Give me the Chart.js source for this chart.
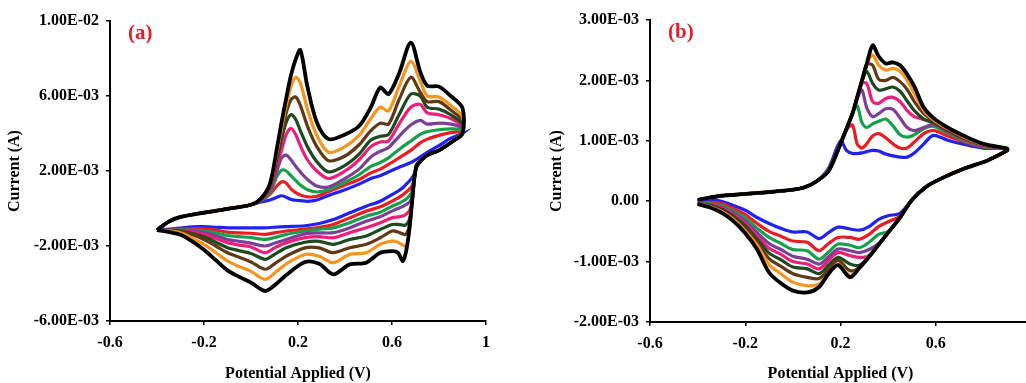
<!DOCTYPE html>
<html>
<head>
<meta charset="utf-8">
<script src="https://cdn.jsdelivr.net/npm/chart.js@4.4.0/dist/chart.umd.min.js"></script>
<style>
  html, body { margin: 0; padding: 0; background: #fff; }
  #wrap { position: relative; width: 1026px; height: 383px; overflow: hidden; }
  #chartA { position: absolute; left: 0; top: 0; }
  #chartB { position: absolute; left: 513px; top: 0; }
</style>
</head>
<body>
<div id="wrap">
  <canvas id="chartA" width="513" height="383"></canvas>
  <canvas id="chartB" width="540" height="383"></canvas>
</div>
<script>
// Currents are in mA, axis labels show them in A.
// Each series = forward scan then reverse scan (same order as the potential array).

// ---------- panel (a) ----------
const A_POT = [
  -0.4, -0.35, -0.3, -0.2, -0.1, 0, 0.04, 0.08, 0.11, 0.13, 0.15, 0.17, 0.19, 0.21, 0.24, 0.28, 0.33, 0.4, 0.46, 0.51, 0.55, 0.585, 0.63, 0.68, 0.72, 0.75, 0.8, 0.85, 0.9,
  0.9, 0.86, 0.8, 0.75, 0.72, 0.705, 0.695, 0.685, 0.675, 0.665, 0.655, 0.645, 0.625, 0.6, 0.55, 0.49, 0.42, 0.35, 0.29, 0.23, 0.15, 0.1, 0.06, 0, -0.05, -0.1, -0.15, -0.2, -0.25, -0.3, -0.35, -0.4
];
const A_BLACK = [
  -1.15, -0.7, -0.45, -0.22, -0.02, 0.2, 0.5, 1.3, 3.2, 4.6, 5.9, 7.1, 7.95, 8.45, 6.5, 4.6, 3.7, 3.95, 4.4, 5.4, 6.45, 6.1, 7.2, 8.85, 7.3, 6.55, 6.5, 6.0, 5.36,
  4.0, 3.6, 3.1, 2.85, 2.5, 2.3, 1.6, 0.3, -1.0, -1.95, -2.55, -2.8, -2.35, -2.27, -2.36, -2.89, -2.98, -3.51, -2.95, -2.85, -3.55, -4.1, -4.4, -3.95, -3.65, -3.3, -2.75, -2.2, -1.75, -1.4, -1.25, -1.15
];
const A_ORANGE = [
  -1.15, -0.7, -0.45, -0.22, -0.02, 0.2, 0.48, 1.25, 3.0, 4.3, 5.5, 6.5, 7.0, 6.7, 5.3, 3.9, 3.0, 3.3, 3.9, 4.8, 5.4, 5.2, 6.5, 7.85, 6.8, 6.0, 5.95, 5.5, 4.9,
  4.0, 3.6, 3.1, 2.85, 2.5, 2.3, 1.6, 0.3, -1.0, -1.85, -2.0, -1.95, -1.8, -1.74, -1.91, -2.36, -2.45, -2.89, -2.55, -2.45, -2.95, -3.45, -3.78, -3.35, -3.1, -2.8, -2.35, -1.91, -1.58, -1.3, -1.2, -1.15
];
const A_BROWN = [
  -1.15, -0.7, -0.45, -0.22, -0.02, 0.2, 0.47, 1.2, 2.8, 4.0, 5.1, 5.8, 5.95, 5.5, 4.4, 3.3, 2.55, 2.8, 3.4, 4.15, 4.55, 4.5, 5.8, 7.0, 6.2, 5.7, 5.7, 5.25, 4.7,
  4.0, 3.6, 3.1, 2.85, 2.5, 2.3, 1.6, 0.3, -0.9, -1.25, -1.4, -1.35, -1.25, -1.2, -1.56, -1.91, -2.09, -2.36, -2.1, -2.1, -2.54, -2.95, -3.24, -2.85, -2.6, -2.36, -2.0, -1.65, -1.4, -1.25, -1.18, -1.15
];
const A_DKGREEN = [
  -1.15, -0.7, -0.45, -0.22, -0.02, 0.2, 0.46, 1.15, 2.6, 3.7, 4.6, 5.0, 4.75, 4.15, 3.3, 2.5, 1.95, 2.3, 2.9, 3.65, 3.85, 3.95, 5.0, 6.1, 6.0, 5.4, 5.3, 5.0, 4.5,
  4.0, 3.6, 3.1, 2.85, 2.5, 2.3, 1.6, 0.3, -0.55, -0.8, -0.9, -0.88, -0.85, -0.85, -1.12, -1.47, -1.65, -1.91, -1.75, -1.8, -2.09, -2.45, -2.71, -2.4, -2.25, -2.09, -1.8, -1.51, -1.33, -1.2, -1.16, -1.15
];
const A_PINK = [
  -1.15, -0.7, -0.45, -0.22, -0.02, 0.2, 0.45, 1.05, 2.3, 3.1, 3.95, 4.28, 3.95, 3.35, 2.6, 2.0, 1.6, 2.0, 2.6, 3.3, 3.55, 3.6, 4.5, 5.4, 5.55, 5.1, 5.0, 4.8, 4.4,
  4.0, 3.6, 3.1, 2.85, 2.5, 2.3, 1.6, 0.3, -0.1, -0.25, -0.35, -0.4, -0.45, -0.5, -0.76, -1.03, -1.29, -1.56, -1.5, -1.55, -1.82, -2.1, -2.36, -2.05, -1.95, -1.82, -1.6, -1.38, -1.25, -1.18, -1.15, -1.15
];
const A_PURPLE = [
  -1.15, -0.7, -0.45, -0.22, -0.02, 0.2, 0.44, 0.95, 2.0, 2.7, 2.85, 2.6, 2.25, 1.95, 1.55, 1.2, 1.15, 1.6, 2.1, 2.75, 3.05, 3.25, 3.85, 4.45, 4.7, 4.5, 4.55, 4.5, 4.3,
  4.0, 3.6, 3.1, 2.85, 2.5, 2.3, 1.6, 0.55, 0.35, 0.25, 0.18, 0.1, 0.0, -0.14, -0.44, -0.68, -1.03, -1.29, -1.3, -1.35, -1.65, -1.85, -2.0, -1.85, -1.75, -1.65, -1.45, -1.29, -1.2, -1.15, -1.15, -1.15
];
const A_GREEN = [
  -1.15, -0.7, -0.45, -0.22, -0.02, 0.2, 0.42, 0.85, 1.7, 2.05, 2.0, 1.75, 1.5, 1.25, 1.0, 0.88, 1.0, 1.4, 1.8, 2.25, 2.45, 2.7, 3.15, 3.6, 3.95, 4.1, 4.2, 4.25, 4.2,
  4.0, 3.6, 3.1, 2.85, 2.5, 2.3, 1.6, 0.9, 0.7, 0.55, 0.45, 0.38, 0.25, 0.12, -0.2, -0.41, -0.76, -1.03, -1.1, -1.2, -1.38, -1.55, -1.65, -1.55, -1.5, -1.44, -1.3, -1.2, -1.15, -1.12, -1.13, -1.15
];
const A_RED = [
  -1.15, -0.7, -0.45, -0.22, -0.02, 0.2, 0.4, 0.75, 1.2, 1.42, 1.35, 1.05, 0.85, 0.72, 0.62, 0.65, 0.9, 1.25, 1.55, 1.9, 2.1, 2.35, 2.7, 3.1, 3.5, 3.7, 3.9, 4.05, 4.1,
  4.0, 3.6, 3.1, 2.85, 2.5, 2.3, 1.6, 1.2, 1.05, 0.92, 0.82, 0.72, 0.55, 0.39, 0.09, -0.14, -0.5, -0.85, -1.0, -1.1, -1.2, -1.3, -1.38, -1.32, -1.3, -1.26, -1.15, -1.08, -1.08, -1.1, -1.12, -1.15
];
const A_BLUE = [
  -1.15, -0.7, -0.45, -0.22, -0.02, 0.2, 0.33, 0.45, 0.6, 0.68, 0.6, 0.48, 0.44, 0.42, 0.38, 0.45, 0.7, 1.0, 1.3, 1.6, 1.75, 1.95, 2.2, 2.45, 2.75, 3.0, 3.35, 3.75, 4.0,
  4.0, 3.6, 3.1, 2.85, 2.5, 2.2, 1.85, 1.63, 1.48, 1.35, 1.22, 1.1, 0.92, 0.74, 0.39, 0.12, -0.23, -0.59, -0.8, -0.92, -0.97, -1.0, -1.03, -1.03, -1.03, -1.03, -1.0, -0.97, -0.98, -1.05, -1.1, -1.15
];
const A_Y_TICKS = [-6, -2, 2, 6, 10];
const A_Y_LABELS = ['-6.00E-03', '-2.00E-03', '2.00E-03', '6.00E-03', '1.00E-02'];

// ---------- panel (b) ----------
const B_POT = [
  -0.4, -0.35, -0.3, -0.2, -0.1, 0, 0.05, 0.1, 0.15, 0.2, 0.225, 0.25, 0.27, 0.29, 0.31, 0.335, 0.36, 0.39, 0.42, 0.45, 0.48, 0.51, 0.55, 0.59, 0.65, 0.72, 0.8, 0.9,
  0.9, 0.82, 0.72, 0.62, 0.56, 0.5, 0.45, 0.4, 0.36, 0.32, 0.28, 0.24, 0.19, 0.15, 0.11, 0.06, 0, -0.05, -0.1, -0.15, -0.2, -0.25, -0.3, -0.35, -0.4
];
const B_BLACK = [
  0.02, 0.06, 0.09, 0.12, 0.15, 0.19, 0.23, 0.33, 0.5, 0.95, 1.2, 1.45, 1.72, 2.0, 2.27, 2.58, 2.4, 2.28, 2.3, 2.25, 2.1, 1.9, 1.55, 1.38, 1.22, 1.08, 0.95, 0.87,
  0.84, 0.68, 0.54, 0.37, 0.24, 0.02, -0.27, -0.52, -0.72, -0.92, -1.1, -1.26, -1.06, -1.2, -1.42, -1.51, -1.48, -1.36, -1.18, -0.8, -0.53, -0.33, -0.19, -0.1, -0.05
];
const B_ORANGE = [
  0.02, 0.06, 0.09, 0.12, 0.15, 0.19, 0.23, 0.33, 0.5, 0.95, 1.2, 1.45, 1.72, 1.98, 2.25, 2.42, 2.25, 2.17, 2.2, 2.15, 2.0, 1.78, 1.5, 1.35, 1.2, 1.06, 0.94, 0.87,
  0.84, 0.68, 0.54, 0.37, 0.24, 0.02, -0.27, -0.52, -0.72, -0.92, -1.1, -1.23, -1.04, -1.2, -1.37, -1.4, -1.34, -1.2, -1.05, -0.73, -0.49, -0.3, -0.17, -0.09, -0.05
];
const B_BROWN = [
  0.02, 0.06, 0.09, 0.12, 0.15, 0.19, 0.23, 0.33, 0.5, 0.95, 1.2, 1.45, 1.72, 1.98, 2.27, 2.25, 2.02, 2.0, 2.05, 1.98, 1.85, 1.65, 1.45, 1.33, 1.18, 1.05, 0.93, 0.87,
  0.84, 0.68, 0.54, 0.37, 0.24, 0.02, -0.27, -0.52, -0.72, -0.92, -1.1, -1.15, -0.98, -1.13, -1.28, -1.26, -1.2, -1.08, -0.95, -0.68, -0.45, -0.28, -0.15, -0.08, -0.05
];
const B_DKGREEN = [
  0.02, 0.06, 0.09, 0.12, 0.15, 0.19, 0.23, 0.33, 0.5, 0.95, 1.2, 1.45, 1.72, 1.97, 2.15, 1.95, 1.84, 1.86, 1.89, 1.82, 1.66, 1.5, 1.36, 1.3, 1.17, 1.04, 0.93, 0.87,
  0.84, 0.68, 0.54, 0.37, 0.24, 0.02, -0.27, -0.52, -0.72, -0.92, -1.06, -1.04, -0.93, -1.06, -1.2, -1.12, -1.09, -0.97, -0.86, -0.63, -0.41, -0.25, -0.13, -0.07, -0.05
];
const B_PINK = [
  0.02, 0.06, 0.09, 0.12, 0.15, 0.19, 0.23, 0.33, 0.5, 0.95, 1.2, 1.45, 1.7, 1.95, 1.95, 1.65, 1.62, 1.7, 1.72, 1.65, 1.5, 1.4, 1.35, 1.3, 1.16, 1.03, 0.92, 0.87,
  0.84, 0.68, 0.54, 0.37, 0.24, 0.02, -0.27, -0.52, -0.72, -0.9, -0.93, -0.9, -0.85, -0.98, -1.12, -1.04, -1.0, -0.88, -0.78, -0.58, -0.37, -0.22, -0.11, -0.06, -0.05
];
const B_PURPLE = [
  0.02, 0.06, 0.09, 0.12, 0.15, 0.19, 0.23, 0.33, 0.5, 0.95, 1.2, 1.45, 1.7, 1.84, 1.55, 1.4, 1.45, 1.53, 1.52, 1.38, 1.22, 1.17, 1.22, 1.27, 1.15, 1.02, 0.91, 0.87,
  0.84, 0.68, 0.54, 0.37, 0.24, 0.02, -0.27, -0.52, -0.7, -0.8, -0.85, -0.82, -0.79, -0.92, -1.04, -0.96, -0.91, -0.8, -0.7, -0.52, -0.33, -0.19, -0.09, -0.05, -0.05
];
const B_GREEN = [
  0.02, 0.06, 0.09, 0.12, 0.15, 0.19, 0.23, 0.33, 0.52, 0.96, 1.2, 1.45, 1.58, 1.3, 1.22, 1.28, 1.32, 1.36, 1.25, 1.1, 1.06, 1.1, 1.2, 1.24, 1.13, 1.0, 0.9, 0.87,
  0.84, 0.68, 0.54, 0.37, 0.24, 0.02, -0.27, -0.5, -0.55, -0.68, -0.77, -0.73, -0.71, -0.84, -0.96, -0.82, -0.8, -0.7, -0.6, -0.45, -0.28, -0.16, -0.07, -0.04, -0.05
];
const B_RED = [
  0.02, 0.06, 0.09, 0.12, 0.15, 0.19, 0.23, 0.33, 0.53, 0.97, 1.18, 1.26, 0.95, 0.88, 0.95, 1.08, 1.12, 1.05, 0.95, 0.88, 0.88, 0.98, 1.12, 1.17, 1.08, 0.98, 0.9, 0.87,
  0.84, 0.68, 0.54, 0.37, 0.24, 0.02, -0.25, -0.34, -0.42, -0.55, -0.63, -0.6, -0.6, -0.7, -0.82, -0.68, -0.66, -0.58, -0.5, -0.37, -0.22, -0.12, -0.04, -0.02, -0.05
];
const B_BLUE = [
  0.02, 0.06, 0.09, 0.12, 0.15, 0.19, 0.23, 0.33, 0.55, 1.0, 0.84, 0.79, 0.79, 0.8, 0.82, 0.84, 0.83, 0.78, 0.75, 0.73, 0.73, 0.8, 0.95, 1.09, 1.01, 0.94, 0.88, 0.87,
  0.84, 0.68, 0.54, 0.37, 0.24, 0.02, -0.2, -0.24, -0.3, -0.42, -0.48, -0.46, -0.43, -0.52, -0.62, -0.51, -0.51, -0.45, -0.37, -0.27, -0.15, -0.07, 0.0, 0.02, -0.05
];
const B_Y_TICKS = [-2, -1, 0, 1, 2, 3];
const B_Y_LABELS = ['-2.00E-03', '-1.00E-03', '0.00', '1.00E-03', '2.00E-03', '3.00E-03'];

const X_TICKS = [-0.6, -0.2, 0.2, 0.6, 1];
const X_LABELS = ['-0.6', '-0.2', '0.2', '0.6', '1'];

// outermost first so black ends up on top
const SERIES_COLORS = ['#000000', '#f7941d', '#603813', '#1c4a1f', '#ec1e79', '#7b3f98', '#17a04b', '#ed1c24', '#1f22f2'];

const FONT = "'Liberation Serif', 'Times New Roman', serif";

// writes (a) / (b) in the top left corner of the plot
const panelLabel = {
  id: 'panelLabel',
  afterDraw(chart, args, opts) {
    const { ctx, chartArea } = chart;
    ctx.save();
    ctx.font = `bold 21px ${FONT}`;
    ctx.fillStyle = '#e3202a';
    ctx.textBaseline = 'middle';
    ctx.fillText(opts.text, chartArea.left + 18, chartArea.top + 13);
    ctx.restore();
  }
};

function scanPoints(pot, cur) {
  return pot.map((x, i) => ({ x, y: cur[i] }));
}

function buildChart(canvasId, cfg) {
  const datasets = cfg.series.map((cur, i) => ({
    data: scanPoints(cfg.pot, cur),
    borderColor: SERIES_COLORS[i],
    borderWidth: i === 0 ? 3.8 : 3.2,
    showLine: true,
    pointRadius: 0,
    tension: 0.3,
    fill: false,
    clip: 4,
  }));

  const tickFont = { family: FONT, size: 16, weight: 'bold' };

  return new Chart(document.getElementById(canvasId), {
    type: 'scatter',
    data: { datasets },
    options: {
      responsive: false,
      animation: false,
      layout: { padding: cfg.padding },
      plugins: {
        legend: { display: false },
        tooltip: { enabled: false },
        panelLabel: { text: cfg.label },
      },
      scales: {
        x: {
          type: 'linear',
          min: -0.6,
          max: 1,
          afterBuildTicks: s => { s.ticks = X_TICKS.map(v => ({ value: v })); },
          afterFit: s => { s.height = cfg.xHeight; },
          ticks: {
            callback: (v, i) => X_LABELS[i],
            font: tickFont,
            color: '#000',
            padding: 8,
            maxRotation: 0,
          },
          grid: { drawOnChartArea: false, drawTicks: true, tickLength: 4, color: '#000', lineWidth: 1.5 },
          border: { color: '#000', width: 2 },
          title: {
            display: true,
            text: 'Potential Applied (V)',
            font: tickFont,
            color: '#000',
            padding: { top: 0, bottom: 0 },
          },
        },
        y: {
          type: 'linear',
          min: cfg.yTicks[0],
          max: cfg.yTicks[cfg.yTicks.length - 1],
          afterBuildTicks: s => { s.ticks = cfg.yTicks.map(v => ({ value: v })); },
          afterFit: s => { s.width = cfg.yWidth; },
          ticks: {
            callback: (v, i) => cfg.yLabels[i],
            font: tickFont,
            color: '#000',
            padding: 7,
          },
          grid: { drawOnChartArea: false, drawTicks: true, tickLength: 4, color: '#000', lineWidth: 1.5 },
          border: { color: '#000', width: 2 },
          title: {
            display: true,
            text: 'Current (A)',
            font: tickFont,
            color: '#000',
            padding: { top: cfg.yTitlePad, bottom: 0 },
          },
        },
      },
    },
    plugins: [panelLabel],
  });
}

buildChart('chartA', {
  label: '(a)',
  pot: A_POT,
  series: [A_BLACK, A_ORANGE, A_BROWN, A_DKGREEN, A_PINK, A_PURPLE, A_GREEN, A_RED, A_BLUE],
  yTicks: A_Y_TICKS,
  yLabels: A_Y_LABELS,
  padding: { left: 0, top: 21, right: 27, bottom: 0 },
  yWidth: 110,
  xHeight: 62,
  yTitlePad: 5.5,
});

buildChart('chartB', {
  label: '(b)',
  pot: B_POT,
  series: [B_BLACK, B_ORANGE, B_BROWN, B_DKGREEN, B_PINK, B_PURPLE, B_GREEN, B_RED, B_BLUE],
  yTicks: B_Y_TICKS,
  yLabels: B_Y_LABELS,
  padding: { left: 0, top: 20, right: 22, bottom: 0 },
  yWidth: 137,
  xHeight: 61,
  yTitlePad: 34,
});
</script>
</body>
</html>
